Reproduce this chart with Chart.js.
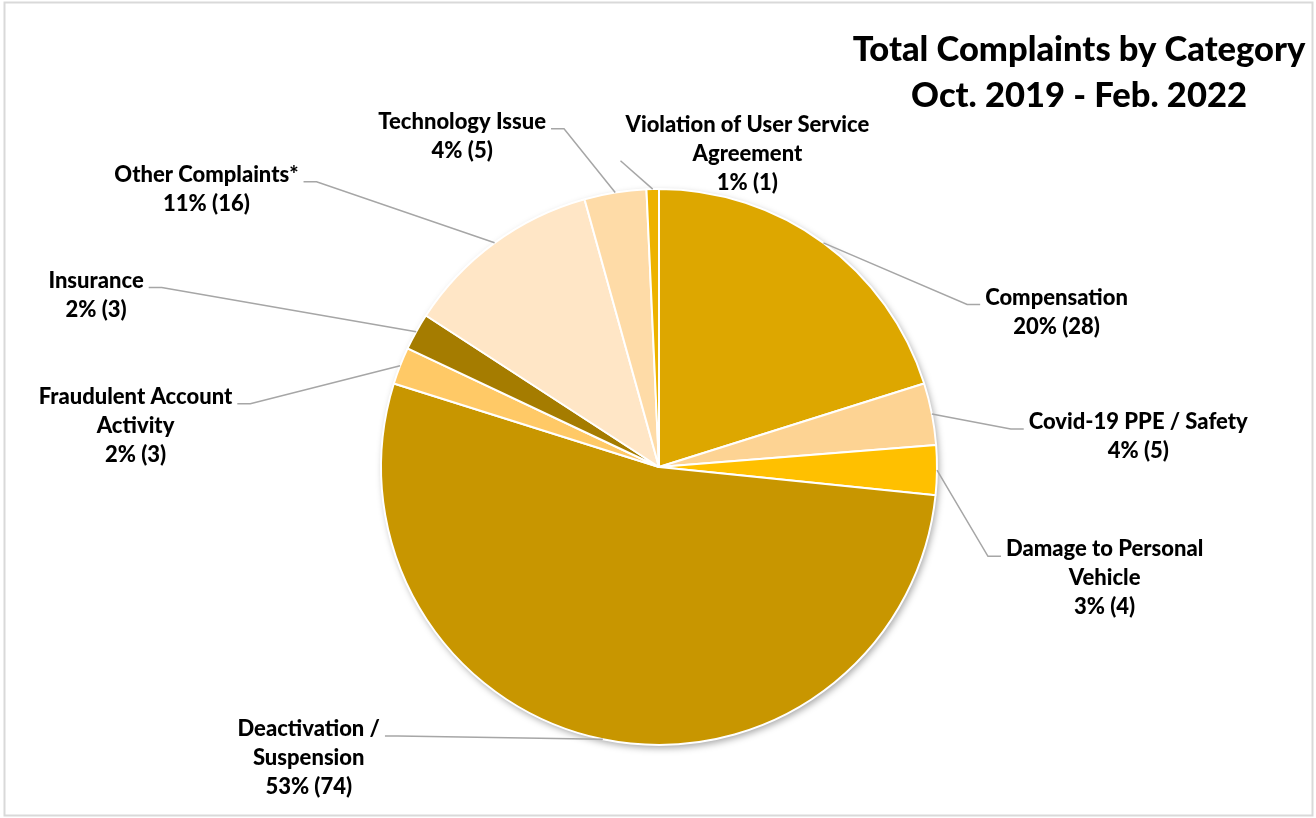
<!DOCTYPE html>
<html>
<head>
<meta charset="utf-8">
<title>Total Complaints by Category</title>
<script src="https://cdn.jsdelivr.net/npm/chart.js@4"></script>
<style>
  html, body { margin: 0; padding: 0; background: #ffffff; }
  #wrap { position: relative; width: 1316px; height: 818px; }
  canvas { display: block; }
</style>
</head>
<body>
<div id="wrap"><canvas id="complaintsPie" width="1316" height="818"></canvas></div>
<script>
// ---- data ----
const categories = [
  'Compensation',
  'Covid-19 PPE / Safety',
  ['Damage to Personal', 'Vehicle'],
  ['Deactivation /', 'Suspension'],
  ['Fraudulent Account', 'Activity'],
  'Insurance',
  'Other Complaints*',
  'Technology Issue',
  ['Violation of User Service', 'Agreement']
];
const complaints = [28, 5, 4, 74, 3, 3, 16, 5, 1];
// share of all complaints, in whole percent, as published
const percentShares = [20, 4, 3, 53, 2, 2, 11, 4, 1];
const titleLines = ['Total Complaints by Category', 'Oct. 2019 - Feb. 2022'];

// ---- styling ----
const sliceColors = [
  '#DDA700', // Compensation
  '#FDD393', // Covid-19 PPE / Safety
  '#FFC000', // Damage to Personal Vehicle
  '#C89600', // Deactivation / Suspension
  '#FFC966', // Fraudulent Account Activity
  '#A57C00', // Insurance
  '#FFE6C6', // Other Complaints*
  '#FEDBA7', // Technology Issue
  '#EDB200'  // Violation of User Service Agreement
];
const FONT_FAMILY = 'Lato, "Open Sans", "DejaVu Sans", sans-serif';
const LABEL_FONT = '900 22px ' + FONT_FAMILY;
const TITLE_FONT = '900 34.5px ' + FONT_FAMILY;
const LABEL_LINE_H = 29;
const LEADER_COLOR = '#A6A6A6';

// Where each data label sits: centre of its first text line, measured in
// pie radii from the pie centre; which side the leader meets the text,
// on which text line, and how long the short horizontal tail is.
const labelPlacement = [
  { dx:  1.430, dy: -0.610, side: 'left',  line: 0, tail: 13 },
  { dx:  1.724, dy: -0.162, side: 'left',  line: 0, tail: 13 },
  { dx:  1.603, dy:  0.296, side: 'left',  line: 0, tail: 13 },
  { dx: -1.260, dy:  0.942, side: 'right', line: 0, tail: 13 },
  { dx: -1.883, dy: -0.253, side: 'right', line: 0, tail: 13 },
  { dx: -2.025, dy: -0.671, side: 'right', line: 0, tail: 13 },
  { dx: -1.628, dy: -1.051, side: 'right', line: 0, tail: 13 },
  { dx: -0.708, dy: -1.242, side: 'right', line: 0, tail: 13 },
  { dx:  0.318, dy: -1.231, side: 'left',  line: 1, tail: 0 }
];

// White page with a thin grey frame
const framePlugin = {
  id: 'frame',
  beforeDraw(chart) {
    const ctx = chart.ctx;
    ctx.save();
    ctx.fillStyle = '#ffffff';
    ctx.fillRect(0, 0, chart.width, chart.height);
    ctx.strokeStyle = '#D9D9D9';
    ctx.lineWidth = 2;
    ctx.strokeRect(4.5, 2.5, chart.width - 8, chart.height - 5);
    ctx.restore();
  }
};

// Soft drop shadow under the whole pie
const pieShadowPlugin = {
  id: 'pieShadow',
  beforeDatasetsDraw(chart) {
    const meta = chart.getDatasetMeta(0);
    if (!meta.data.length) return;
    const arc = meta.data[0];
    const ctx = chart.ctx;
    ctx.save();
    ctx.shadowColor = 'rgba(0,0,0,0.35)';
    ctx.shadowBlur = 7;
    ctx.shadowOffsetX = 2;
    ctx.shadowOffsetY = 3;
    ctx.fillStyle = '#ffffff';
    ctx.beginPath();
    ctx.arc(arc.x, arc.y, arc.outerRadius, 0, Math.PI * 2);
    ctx.fill();
    ctx.restore();
  }
};

// Data labels with leader lines
const leaderLabelPlugin = {
  id: 'leaderLabels',
  afterDatasetsDraw(chart) {
    const ctx = chart.ctx;
    const meta = chart.getDatasetMeta(0);
    ctx.save();
    ctx.font = LABEL_FONT;
    meta.data.forEach((arc, i) => {
      const p = labelPlacement[i];
      const r = arc.outerRadius;
      const mid = (arc.startAngle + arc.endAngle) / 2;
      const ax = arc.x + Math.cos(mid) * r;
      const ay = arc.y + Math.sin(mid) * r;

      const name = Array.isArray(categories[i]) ? categories[i] : [categories[i]];
      const lines = name.concat([percentShares[i] + '% (' + complaints[i] + ')']);
      const cx = arc.x + p.dx * r;
      const cy = arc.y + p.dy * r;
      const boxW = Math.max(...lines.map(l => ctx.measureText(l).width));
      const left = cx - boxW / 2;
      const right = cx + boxW / 2;

      const ly = cy + p.line * LABEL_LINE_H + 7;
      let tx, ex;
      if (p.side === 'left') { tx = left - 5; ex = tx - p.tail; }
      else { tx = right + 5; ex = tx + p.tail; }

      ctx.strokeStyle = LEADER_COLOR;
      ctx.lineWidth = 1.5;
      ctx.beginPath();
      ctx.moveTo(ax, ay);
      ctx.lineTo(ex, ly);
      ctx.lineTo(tx, ly);
      ctx.stroke();

      ctx.fillStyle = '#000000';
      ctx.textAlign = 'center';
      ctx.textBaseline = 'middle';
      lines.forEach((l, k) => ctx.fillText(l, cx, cy + k * LABEL_LINE_H));
    });
    ctx.restore();
  }
};

// Two-line title, centred on itself in the top-right corner
const titlePlugin = {
  id: 'cornerTitle',
  afterDraw(chart) {
    const ctx = chart.ctx;
    ctx.save();
    ctx.font = TITLE_FONT;
    ctx.fillStyle = '#000000';
    ctx.textAlign = 'center';
    ctx.textBaseline = 'middle';
    titleLines.forEach((t, k) => ctx.fillText(t, 1079, 50 + k * 46));
    ctx.restore();
  }
};

new Chart(document.getElementById('complaintsPie'), {
  type: 'pie',
  data: {
    labels: categories,
    datasets: [{
      data: complaints,
      backgroundColor: sliceColors,
      borderColor: '#ffffff',
      borderWidth: 2,
      hoverOffset: 0
    }]
  },
  options: {
    responsive: false,
    animation: false,
    layout: { padding: { left: 102, right: 100, top: 188, bottom: 72 } },
    plugins: {
      legend: { display: false },
      tooltip: { enabled: false },
      title: { display: false }
    }
  },
  plugins: [framePlugin, pieShadowPlugin, leaderLabelPlugin, titlePlugin]
});
</script>
</body>
</html>
